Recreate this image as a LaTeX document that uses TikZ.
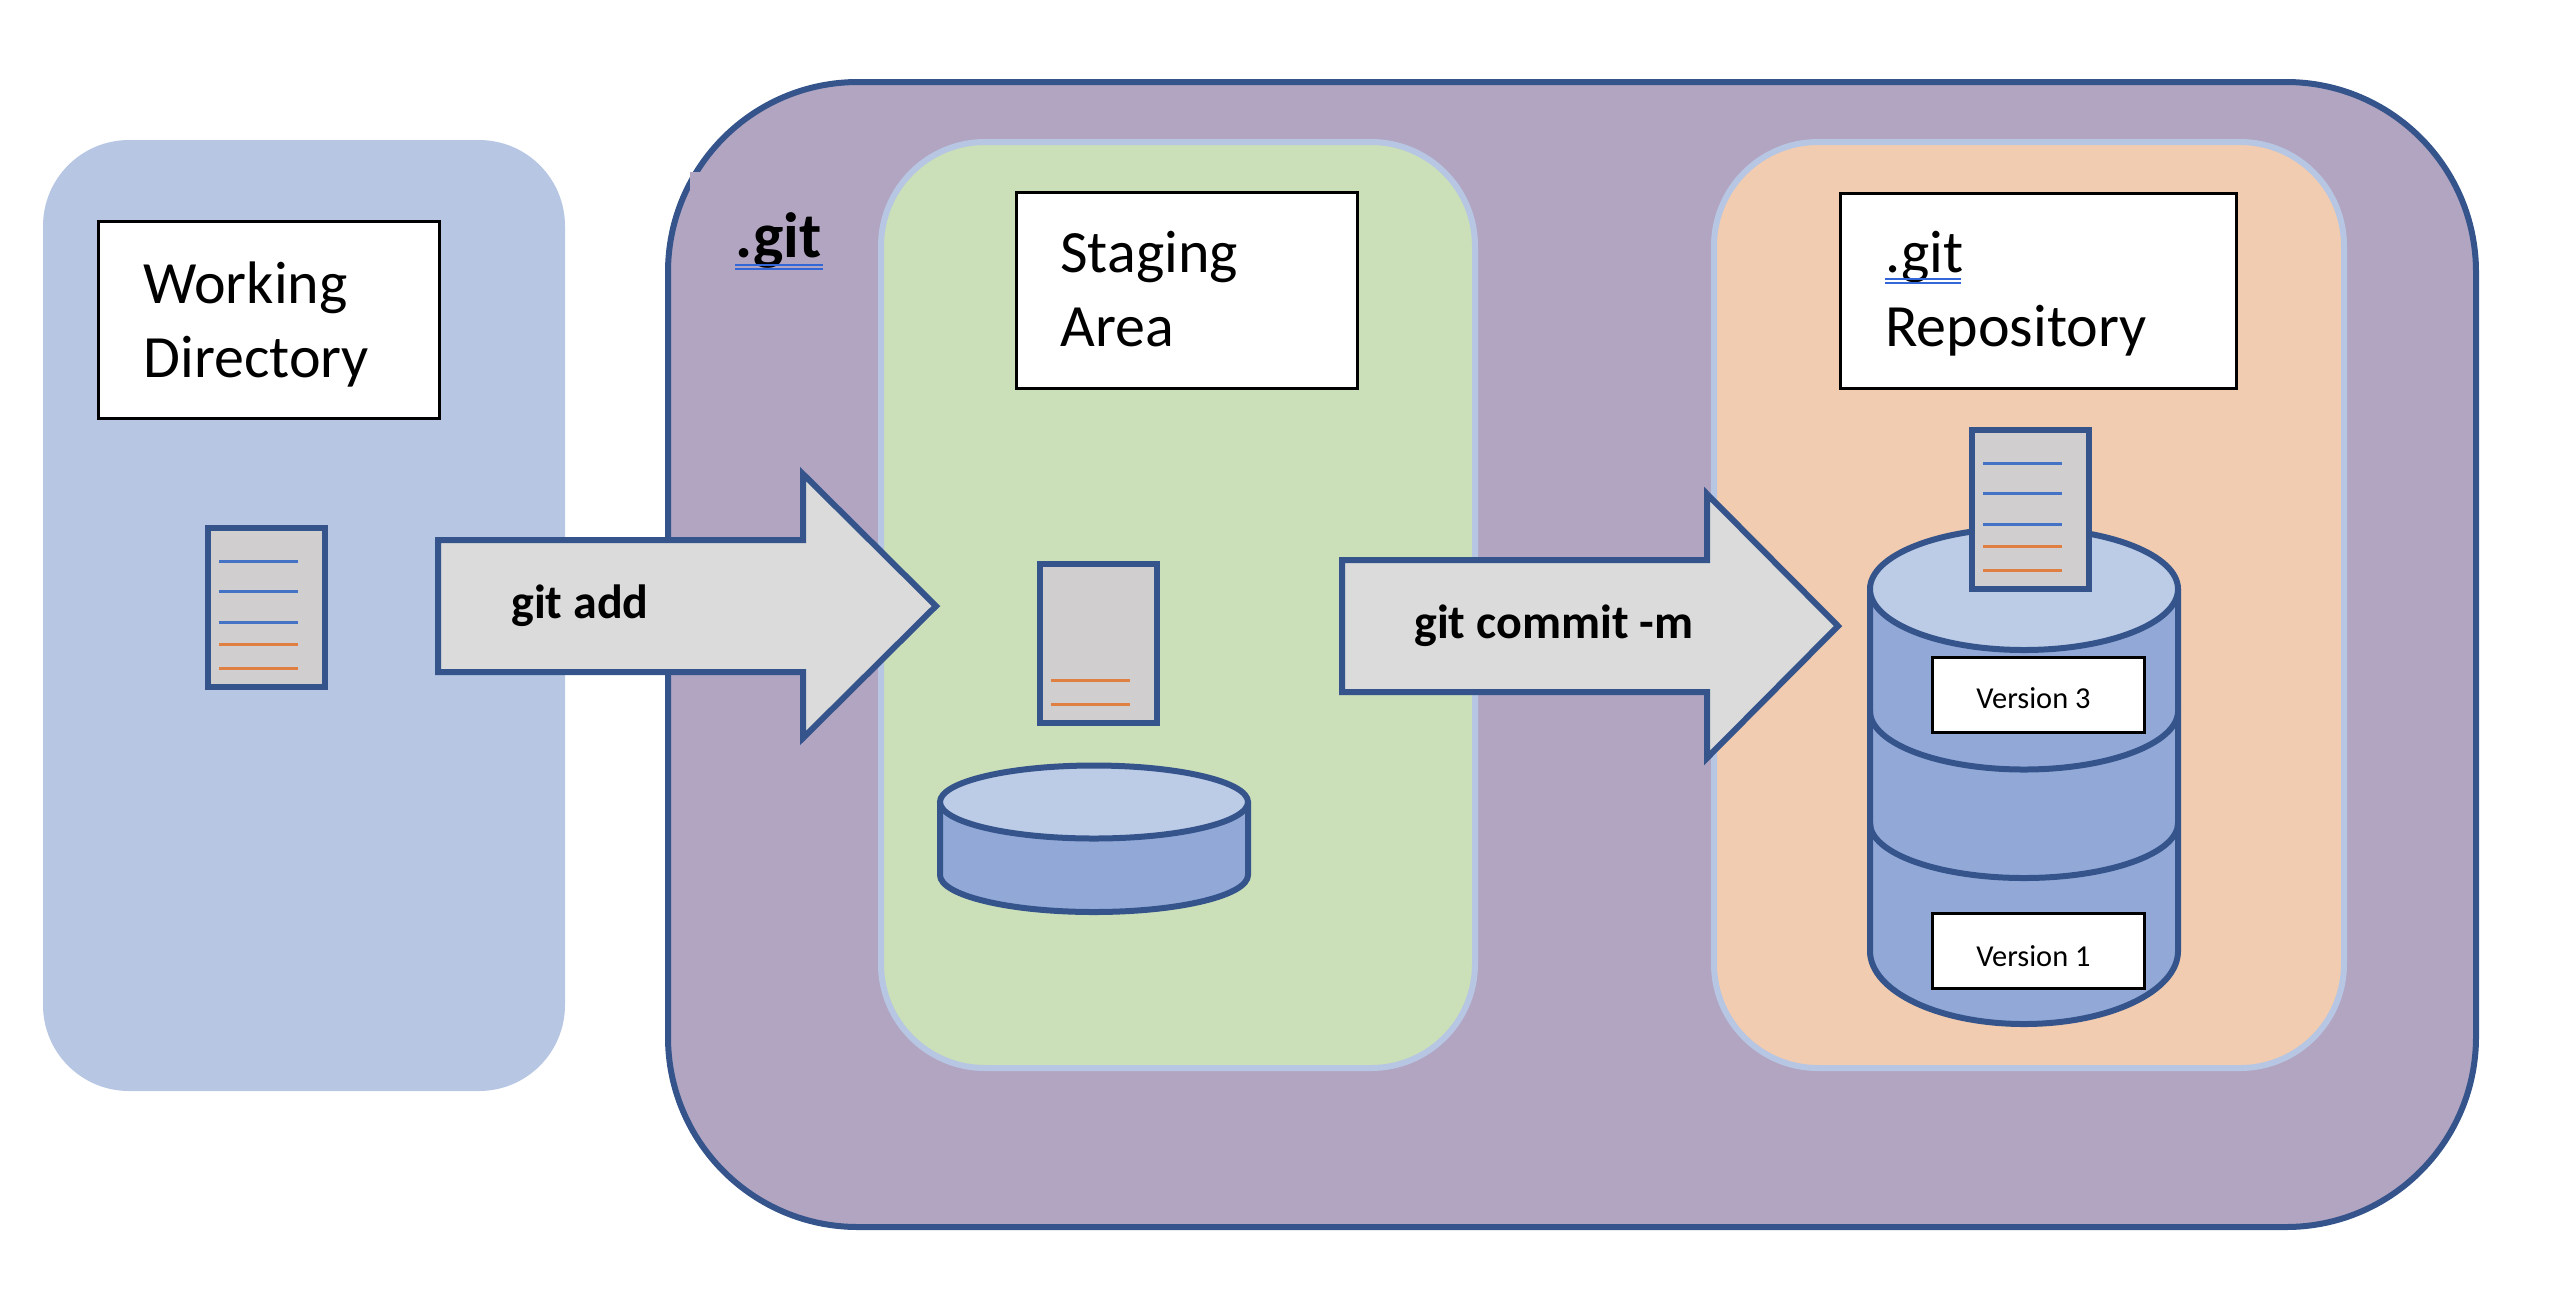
\documentclass[tikz,border=0pt]{standalone}
\usepackage{fontspec}
\setmainfont{Carlito}
\usepackage{xcolor}
\definecolor{cWork}{HTML}{B7C7E3}
\definecolor{cGit}{HTML}{B2A5C1}
\definecolor{cEdge}{HTML}{35548C}
\definecolor{cStage}{HTML}{CBDFB8}
\definecolor{cRepo}{HTML}{F1CCB0}
\definecolor{cTop}{HTML}{BCCBE6}
\definecolor{cSide}{HTML}{92A9D8}
\definecolor{cPage}{HTML}{D0CECE}
\definecolor{cArrow}{HTML}{DBDBDB}
\definecolor{cBlue}{HTML}{4472C4}
\definecolor{cOrange}{HTML}{E07F42}
\definecolor{cWavy}{HTML}{3366D6}
\tikzset{
  panel/.style   = {rectangle, outer sep=0pt, inner sep=0pt},
  area/.style    = {panel, fill=cStage, draw=cWork, line width=3pt, rounded corners=52pt},
  headbox/.style = {panel, fill=white, draw=black, line width=1.5pt},
  heading/.style = {anchor=base west, inner sep=0pt, font=\fontsize{30}{37}\selectfont},
  cmd/.style     = {anchor=base west, inner sep=0pt, font=\fontsize{24}{28}\selectfont\bfseries},
  version/.style = {headbox, minimum width=106pt, minimum height=37.5pt},
  vtext/.style   = {anchor=base west, inner sep=0pt, font=\fontsize{15.2}{20}\selectfont},
  paper/.style   = {panel, fill=cPage, draw=cEdge, line width=3pt, minimum width=58.5pt, minimum height=79.5pt},
  bigarrow/.style = {fill=cArrow, draw=cEdge, line width=3pt, miter limit=10},
  drum/.style    = {fill=cSide, draw=cEdge, line width=3pt, line join=round},
  drumtop/.style = {fill=cTop, draw=cEdge, line width=3pt},
  ruleb/.style   = {draw=cBlue, line width=1.5pt},
  ruleo/.style   = {draw=cOrange, line width=1.5pt},
  spell/.style   = {draw=cWavy, line width=1pt},
}
\begin{document}
\begin{tikzpicture}[x=0.5pt, y=-0.5pt]
  \useasboundingbox (0,0) rectangle (2576,1314);
  % ---- big panels ----
  \node[panel, fill=cWork, rounded corners=43pt, minimum width=261pt, minimum height=475.5pt] (work)
    at (304,615.5) {};
  \node[panel, fill=cGit, draw=cEdge, line width=3pt, rounded corners=95pt, minimum width=904pt, minimum height=572.5pt] (git)
    at (1572,654.5) {};
  \fill[cGit] (690,172) rectangle (702,205);
  \node[area, minimum width=297pt, minimum height=463pt] (stage) at (1178,605) {};
  \node[area, fill=cRepo, minimum width=315pt, minimum height=463pt] (repo) at (2029,605) {};
  % ---- titles ----
  \node[headbox, minimum width=170.5pt, minimum height=98.5pt] (workbox) at (268.5,320) {};
  \node[heading] (worktext) at (143,303) {Working};
  \node[heading] (worktext2) at (143,377) {Directory};
  \node[headbox, minimum width=170.5pt, minimum height=98pt] (stagebox) at (1186.5,290.5) {};
  \node[heading] (stagetext) at (1060,272) {Staging};
  \node[heading] (stagetext2) at (1060,346) {Area};
  \node[headbox, minimum width=198pt, minimum height=97.5pt] (repobox) at (2038,290.5) {};
  \node[heading] (repotext) at (1885,272) {.git};
  \node[heading] (repotext2) at (1885,346) {Repository};
  \draw[spell] (1885,279) -- (1961,279) (1885,283) -- (1961,283);
  \node[heading, font=\fontsize{32}{37}\selectfont\bfseries] (gittext) at (735,257) {.git};
  \draw[spell] (735,265) -- (823,265) (735,269) -- (823,269);
  % ---- staged drum ----
  \draw[drum] (940,802) -- (940,875) arc[start angle=180, end angle=0, x radius=154, y radius=37]
    -- (1248,802) -- cycle;
  \draw[drumtop] (1094,802) ellipse[x radius=154, y radius=36.5];
  % ---- repository drum ----
  \draw[drum] (1870,589) -- (1870,951) arc[start angle=180, end angle=0, x radius=154, y radius=73]
    -- (2178,589) -- cycle;
  \draw[draw=cEdge, line width=3pt] (1870,711) arc[start angle=180, end angle=0, x radius=154, y radius=58.5];
  \draw[draw=cEdge, line width=3pt] (1870,823) arc[start angle=180, end angle=0, x radius=154, y radius=55];
  \draw[drumtop] (2024,589) ellipse[x radius=154, y radius=61];
  \node[version] (v3) at (2038,694.5) {};
  \node[vtext] (v3text) at (1976,708) {Version 3};
  \node[version] (v1) at (2038,951) {};
  \node[vtext] (v1text) at (1976,966) {Version 1};
  % ---- pages ----
  \node[paper] (page1) at (266.5,607.5) {};
  \foreach \y in {561,591,622} \draw[ruleb] (219,\y) -- (298,\y);
  \foreach \y in {644,668} \draw[ruleo] (219,\y) -- (298,\y);
  \node[paper] (page2) at (1098.5,643.5) {};
  \foreach \y in {680,704} \draw[ruleo] (1051,\y) -- (1130,\y);
  \node[paper] (page3) at (2030.5,509) {};
  \foreach \y in {463,493,524} \draw[ruleb] (1983,\y) -- (2062,\y);
  \foreach \y in {546,570} \draw[ruleo] (1983,\y) -- (2062,\y);
  % ---- block arrows ----
  \draw[bigarrow] (438,540) -- (803,540) -- (803,474) -- (936,606) -- (803,738) -- (803,672) -- (438,672) -- cycle;
  \node[cmd] (add) at (511,618) {git add};
  \draw[bigarrow] (1342,560) -- (1707,560) -- (1707,494) -- (1838,626) -- (1707,758) -- (1707,692) -- (1342,692) -- cycle;
  \node[cmd] (commit) at (1414,638) {git commit -m};
\end{tikzpicture}
\end{document}
